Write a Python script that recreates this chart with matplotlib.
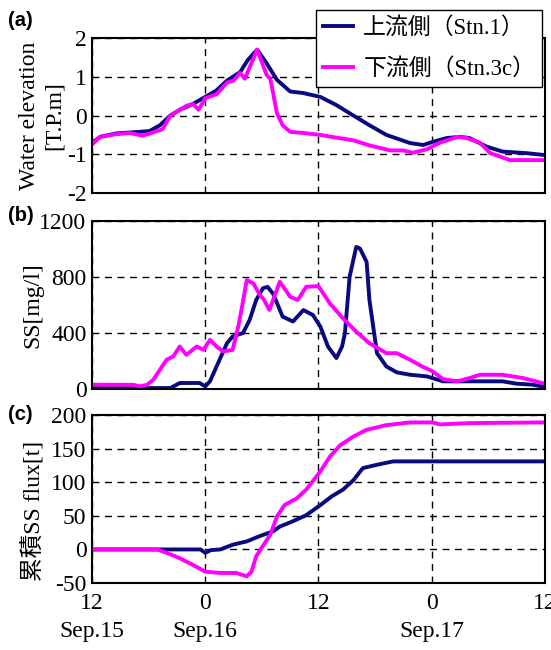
import matplotlib
matplotlib.use("Agg")
import matplotlib.pyplot as plt

plt.rcParams['font.family'] = ['Liberation Serif', 'Noto Sans CJK JP']
plt.rcParams['font.size'] = 17
plt.rcParams['axes.unicode_minus'] = False

# hours from Sep.15 12:00
wl_up_t = [0, 0.85, 2.6, 5.1, 6.1, 7.2, 8.3, 9.3, 10.7, 12, 13.2, 14.3, 15.7, 16.5, 17.5,
           18.5, 19.6, 21, 22.4, 24.2, 25.9, 27.7, 29.4, 31.2, 33.7, 35.1, 36.1, 37.6, 39,
           40, 41.8, 43.5, 46, 48]
wl_up = [-0.71, -0.55, -0.46, -0.42, -0.4, -0.25, 0.0, 0.15, 0.3, 0.48, 0.65, 0.9, 1.12, 1.43, 1.7,
         1.35, 0.92, 0.62, 0.58, 0.48, 0.27, 0.0, -0.25, -0.5, -0.71, -0.76, -0.68, -0.58, -0.55,
         -0.58, -0.8, -0.93, -0.97, -1.02]
wl_dn_t = [0, 0.85, 2.6, 4.0, 5.4, 6.3, 7.5, 8.3, 9.0, 10.0, 10.7, 11.3, 12, 13.2, 14.3, 15.0,
           15.7, 16.2, 17.5, 18.5, 18.9, 19.6, 20.2, 21, 22.4, 24.2, 25.9, 27.7, 29.4, 31.6, 33,
           34, 35.5, 36.9, 38.7, 39.7, 41.1, 42.2, 44.3, 48]
wl_dn = [-0.75, -0.55, -0.48, -0.45, -0.52, -0.45, -0.35, 0.0, 0.1, 0.25, 0.3, 0.15, 0.45, 0.55,
         0.85, 0.9, 1.1, 0.95, 1.7, 1.05, 0.95, 0.06, -0.25, -0.42, -0.45, -0.5, -0.57, -0.64,
         -0.77, -0.9, -0.9, -0.96, -0.87, -0.7, -0.55, -0.58, -0.7, -0.97, -1.15, -1.15]

ss_up_t = [0, 8.3, 9.3, 11.4, 12, 12.5, 13.2, 14.3, 14.9, 16, 16.7, 17.4, 18.1, 18.6, 19.2, 20.2,
           21.3, 22.4, 23.4, 24.2, 25, 25.9, 26.5, 26.8, 27.3, 28, 28.4, 29.1, 29.4, 30.2, 31.2,
           32.3, 33.7, 35.5, 37.2, 40, 43.5, 45, 46.7, 48]
ss_up = [7, 7, 43, 43, 19, 55, 161, 327, 375, 400, 493, 636, 719, 730, 680, 517,
         482, 564, 529, 446, 304, 221, 304, 398, 802, 1015, 1003, 908, 636, 256, 161,
         119, 102, 90, 55, 55, 55, 38, 31, 14]
ss_dn_t = [0, 4.4, 5.1, 5.8, 6.5, 7.2, 7.9, 8.6, 9.3, 10, 11.1, 11.8, 12.5, 13.2, 13.9, 14.9,
           15.5, 15.9, 16.4, 17.1, 17.8, 18.2, 18.8, 19.9, 21, 21.8, 22.7, 24, 25.2, 26.6, 28,
           29.4, 31.2, 32.3, 33.7, 35, 36.1, 37.2, 38.7, 40, 41.1, 43.5, 45.7, 48]
ss_dn = [31, 30, 19, 30, 66, 138, 209, 232, 304, 244, 304, 280, 351, 304, 268, 280,
         446, 588, 778, 754, 671, 640, 565, 766, 659, 636, 730, 735, 612, 505, 410,
         327, 256, 256, 209, 161, 126, 71, 55, 78, 102, 102, 78, 38]

fx_up_t = [0, 11.5, 12, 12.6, 13.6, 14.9, 16.4, 17.8, 19.2, 19.9, 21.3, 22.7, 24.2, 25.4, 26.6,
           27.7, 28.7, 30.2, 31.9, 48]
fx_up = [0, 0, -5, -1, 0, 7, 12, 20, 27, 34, 42, 51, 66, 79, 89, 103, 121, 126, 131, 131]
fx_dn_t = [0, 6.9, 7.9, 9.3, 10.7, 12, 13.6, 15.3, 16.4, 16.9, 17.4, 18.1, 18.9, 19.6, 20.4,
           21.7, 22.7, 24.2, 25.2, 26.3, 27.7, 29.1, 31.2, 33.7, 36.1, 36.9, 40, 48]
fx_dn = [0, 0, -5, -13, -23, -33, -35, -35, -40, -33, -10, 5, 22, 49, 66, 76, 89, 116, 138,
         155, 168, 178, 185, 189, 189, 186, 188, 189]

x_ticks = [0, 12, 24, 36, 48]
x_labels = ['12\nSep.15', '0\nSep.16', '12', '0\nSep.17', '12']
labels = ['上流側（Stn.1）', '下流側（Stn.3c）']

c_up = '#0a0a80'
c_dn = '#ff00ff'
lw = 2.8

fig = plt.figure(figsize=(5.51, 6.5), dpi=100)
ax1 = fig.add_axes([0.167, 0.703, 0.822, 0.2385])
ax2 = fig.add_axes([0.167, 0.4015, 0.822, 0.2585])
ax3 = fig.add_axes([0.167, 0.103, 0.822, 0.2585])

ax1.plot(wl_up_t, wl_up, color=c_up, lw=lw, label=labels[0])
ax1.plot(wl_dn_t, wl_dn, color=c_dn, lw=lw, label=labels[1])
ax1.set_ylim(-2, 2)
ax1.set_yticks([-2, -1, 0, 1, 2])
ax1.set_ylabel('Water elevation\n[T.P.m]', linespacing=1.25)
ax1.yaxis.set_label_coords(-0.06, 0.5)

ax2.plot(ss_up_t, ss_up, color=c_up, lw=lw)
ax2.plot(ss_dn_t, ss_dn, color=c_dn, lw=lw)
ax2.set_ylim(0, 1200)
ax2.set_yticks([0, 400, 800, 1200])
ax2.set_ylabel('SS[mg/l]')
ax2.yaxis.set_label_coords(-0.107, 0.5)

ax3.plot(fx_up_t, fx_up, color=c_up, lw=lw)
ax3.plot(fx_dn_t, fx_dn, color=c_dn, lw=lw)
ax3.set_ylim(-50, 200)
ax3.set_yticks([-50, 0, 50, 100, 150, 200])
ax3.set_ylabel('累積SS flux[t]')
ax3.yaxis.set_label_coords(-0.105, 0.43)

for ax in (ax1, ax2, ax3):
    ax.set_xlim(0, 48)
    ax.set_xticks(x_ticks)
    ax.tick_params(length=0, pad=4)
    ax.tick_params(axis='x', pad=7)
    ax.grid(True, color='black', linestyle=(0, (5, 4)), lw=1.0)
    for s in ax.spines.values():
        s.set_linewidth(1.5)
ax1.set_xticklabels([])
ax2.set_xticklabels([])
ax3.set_xticklabels(x_labels)
for t in ax3.get_xticklabels():
    t.set_linespacing(1.45)

for y, t in [(0.968, '(a)'), (0.668, '(b)'), (0.362, '(c)')]:
    fig.text(0.015, y, t, fontsize=14.5, fontweight='bold', family='Liberation Sans', va='center')

fig.legend(loc='upper right', bbox_to_anchor=(0.984, 0.985), borderaxespad=0,
           fontsize=16.5, frameon=True, fancybox=False, edgecolor='black', framealpha=1,
           handlelength=1.3, handletextpad=0.45, borderpad=0.3, labelspacing=0.85)

fig.savefig('out.png', dpi=100)
